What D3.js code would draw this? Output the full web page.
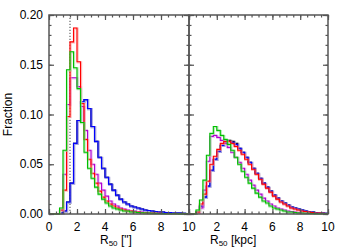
<!DOCTYPE html>
<html>
<head>
<meta charset="utf-8">
<script src="https://cdn.jsdelivr.net/npm/d3@7"></script>
<style>
  body { margin: 0; background: #fff; }
  text { font-family: "Liberation Sans", Arial, sans-serif; }
</style>
</head>
<body>
<svg id="chart" width="350" height="250"></svg>
<script>
// bins of 0.25 from 0 to 10 in both panels
var binWidth = 0.25;
var cutValue = 1.5; // dotted line, arcsec

// left panel: R50 in arcsec
var leftRed = [0, 0, 0, 0.004, 0.024, 0.098, 0.173, 0.187, 0.153, 0.111, 0.075, 0.055, 0.041, 0.031, 0.023, 0.017, 0.013, 0.010, 0.008, 0.006,
  0.005, 0.004, 0.003, 0.003, 0.002, 0.002, 0.0015, 0.0012, 0.001, 0.001, 0.0008, 0.0006, 0.0005, 0.0004, 0.0003, 0.0003, 0.0002, 0.0002, 0.0001, 0.0001];
var leftGreen = [0, 0, 0, 0.006, 0.064, 0.145, 0.163, 0.147, 0.126, 0.092, 0.062, 0.046, 0.036, 0.027, 0.020, 0.015, 0.011, 0.008, 0.006, 0.005,
  0.004, 0.003, 0.003, 0.002, 0.002, 0.0015, 0.0012, 0.001, 0.001, 0.0008, 0.0006, 0.0005, 0.0004, 0.0003, 0.0003, 0.0002, 0.0002, 0.0001, 0.0001, 0.0001];
var leftBlue = [0, 0, 0, 0.001, 0.003, 0.012, 0.031, 0.071, 0.094, 0.113, 0.115, 0.106, 0.088, 0.073, 0.057, 0.046, 0.037, 0.030, 0.024, 0.019,
  0.015, 0.012, 0.010, 0.008, 0.007, 0.006, 0.005, 0.004, 0.0035, 0.003, 0.0025, 0.002, 0.002, 0.0015, 0.0015, 0.001, 0.001, 0.001, 0.0008, 0.0005];
var leftMagenta = [0, 0, 0, 0.004, 0.040, 0.110, 0.137, 0.137, 0.128, 0.108, 0.084, 0.064, 0.050, 0.040, 0.031, 0.024, 0.018, 0.013, 0.010, 0.008,
  0.006, 0.005, 0.004, 0.003, 0.003, 0.002, 0.002, 0.0015, 0.001, 0.001, 0.0008, 0.0006, 0.0005, 0.0004, 0.0003, 0.0003, 0.0002, 0.0002, 0.0001, 0.0001];
var leftBlack = leftBlue;

// right panel: R50 in kpc
var rightRed = [0, 0, 0.002, 0.010, 0.020, 0.033, 0.050, 0.058, 0.065, 0.071, 0.073, 0.073, 0.071, 0.068, 0.064, 0.060, 0.055, 0.050, 0.045, 0.040,
  0.035, 0.030, 0.026, 0.022, 0.018, 0.015, 0.012, 0.010, 0.008, 0.006, 0.005, 0.004, 0.003, 0.0025, 0.002, 0.0015, 0.001, 0.001, 0.0008, 0.0005];
var rightGreen = [0, 0, 0.004, 0.014, 0.034, 0.059, 0.081, 0.088, 0.084, 0.079, 0.075, 0.070, 0.064, 0.057, 0.050, 0.043, 0.037, 0.031, 0.026, 0.021,
  0.017, 0.013, 0.011, 0.008, 0.006, 0.005, 0.004, 0.003, 0.002, 0.002, 0.0015, 0.001, 0.001, 0.0008, 0.0006, 0.0005, 0.0004, 0.0003, 0.0002, 0.0002];
var rightBlue = [0, 0, 0.002, 0.008, 0.017, 0.028, 0.044, 0.055, 0.063, 0.069, 0.072, 0.073, 0.072, 0.070, 0.066, 0.062, 0.057, 0.052, 0.046, 0.041,
  0.036, 0.031, 0.027, 0.023, 0.019, 0.016, 0.013, 0.011, 0.009, 0.007, 0.006, 0.005, 0.004, 0.003, 0.0025, 0.002, 0.0015, 0.001, 0.001, 0.0008];
var rightMagenta = [0, 0, 0.002, 0.006, 0.024, 0.053, 0.078, 0.079, 0.077, 0.074, 0.071, 0.067, 0.062, 0.057, 0.052, 0.046, 0.040, 0.034, 0.029, 0.024,
  0.020, 0.016, 0.013, 0.010, 0.008, 0.006, 0.005, 0.004, 0.003, 0.0025, 0.002, 0.0015, 0.001, 0.001, 0.0008, 0.0006, 0.0005, 0.0004, 0.0003, 0.0002];
var rightBlack = [0, 0, 0.002, 0.008, 0.017, 0.028, 0.044, 0.055, 0.063, 0.069, 0.073, 0.074, 0.073, 0.071, 0.066, 0.062, 0.057, 0.052, 0.046, 0.041,
  0.036, 0.031, 0.027, 0.023, 0.019, 0.016, 0.013, 0.011, 0.009, 0.007, 0.006, 0.005, 0.004, 0.003, 0.0025, 0.002, 0.0015, 0.001, 0.001, 0.0008];

var xTicks = [0, 2, 4, 6, 8, 10];
var yTicks = [0, 0.05, 0.10, 0.15, 0.20];

var colors = {
  black: ["#000000", "#888888"],
  blue: ["#0000ff", "#9090ff"],
  magenta: ["#b000d0", "#e0a0ee"],
  red: ["#ff0000", "#ff9090"],
  green: ["#00c000", "#90e090"]
};

var panels = [
  { x0: 49, x1: 189, title: "R", unit: " [\"]", tx: 100, labels: [0, 2, 4, 6, 8, 10],
    series: [["black", leftBlack], ["blue", leftBlue], ["magenta", leftMagenta], ["red", leftRed], ["green", leftGreen]] },
  { x0: 189, x1: 328, title: "R", unit: " [kpc]", tx: 210, labels: [2, 4, 6, 8, 10],
    series: [["black", rightBlack], ["blue", rightBlue], ["magenta", rightMagenta], ["red", rightRed], ["green", rightGreen]] }
];

var plotTop = 15, plotBottom = 214;
var svg = d3.select("#chart");
var y = d3.scaleLinear().domain([0, 0.2]).range([plotBottom, plotTop]);

function steps(values, x) {
  var pts = [];
  values.forEach(function(v, i) {
    pts.push([x(i * binWidth), y(v)]);
    pts.push([x((i + 1) * binWidth), y(v)]);
  });
  return pts;
}

var line = d3.line();
var axisColor = "#555";

panels.forEach(function(p, pi) {
  var x = d3.scaleLinear().domain([0, 10]).range([p.x0, p.x1]);
  var clipId = "clip" + pi;
  svg.append("clipPath").attr("id", clipId)
    .append("rect").attr("x", p.x0).attr("y", plotTop).attr("width", p.x1 - p.x0).attr("height", plotBottom - plotTop + 1);
  var g = svg.append("g").attr("clip-path", "url(#" + clipId + ")");

  if (pi == 0) {
    g.append("line")
      .attr("x1", x(cutValue)).attr("x2", x(cutValue))
      .attr("y1", y(0)).attr("y2", y(0.2))
      .attr("stroke", "#666").attr("stroke-width", 1.2)
      .attr("stroke-dasharray", "1.3,1.7");
  }

  p.series.forEach(function(s) {
    var c = colors[s[0]];
    g.append("path").attr("d", line(steps(s[1], x)))
      .attr("fill", "none").attr("stroke", c[1]).attr("stroke-width", 2.2)
      .attr("stroke-opacity", 0.6)
      .attr("transform", "translate(0.6,0.6)");
    g.append("path").attr("d", line(steps(s[1], x)))
      .attr("fill", "none").attr("stroke", c[0]).attr("stroke-width", 1.1);
  });

  // ticks drawn with d3 axes, inward
  var ax = svg.append("g");
  ax.append("g").attr("transform", "translate(0," + plotBottom + ")")
    .call(d3.axisTop(x).tickValues(d3.range(0, 10.01, 0.5)).tickSize(2.5).tickFormat(""));
  ax.append("g").attr("transform", "translate(0," + plotBottom + ")")
    .call(d3.axisTop(x).tickValues(xTicks).tickSize(5).tickFormat(""));
  ax.append("g").attr("transform", "translate(0," + plotTop + ")")
    .call(d3.axisBottom(x).tickValues(d3.range(0, 10.01, 0.5)).tickSize(2.5).tickFormat(""));
  ax.append("g").attr("transform", "translate(0," + plotTop + ")")
    .call(d3.axisBottom(x).tickValues(xTicks).tickSize(5).tickFormat(""));
  ax.append("g").attr("transform", "translate(" + p.x0 + ",0)")
    .call(d3.axisRight(y).tickValues(d3.range(0, 0.2001, 0.01)).tickSize(2.5).tickFormat(""));
  ax.append("g").attr("transform", "translate(" + p.x0 + ",0)")
    .call(d3.axisRight(y).tickValues(yTicks).tickSize(5).tickFormat(""));
  ax.append("g").attr("transform", "translate(" + p.x1 + ",0)")
    .call(d3.axisLeft(y).tickValues(d3.range(0, 0.2001, 0.01)).tickSize(2.5).tickFormat(""));
  ax.append("g").attr("transform", "translate(" + p.x1 + ",0)")
    .call(d3.axisLeft(y).tickValues(yTicks).tickSize(5).tickFormat(""));
  ax.selectAll(".domain").remove();
  ax.selectAll("line").attr("stroke", axisColor).attr("stroke-width", 1.2);

  svg.append("rect")
    .attr("x", p.x0).attr("y", plotTop).attr("width", p.x1 - p.x0).attr("height", plotBottom - plotTop)
    .attr("fill", "none").attr("stroke", axisColor).attr("stroke-width", 1.5);

  svg.selectAll(".xl" + pi).data(p.labels).enter().append("text")
    .attr("x", function(d) { return x(d); })
    .attr("y", 231)
    .attr("text-anchor", "middle")
    .attr("font-size", 12)
    .text(function(d) { return d; });

  var t = svg.append("text").attr("x", p.tx).attr("y", 244).attr("font-size", 12);
  t.append("tspan").text(p.title);
  t.append("tspan").attr("font-size", 8).attr("dy", 2).text("50");
  t.append("tspan").attr("dy", -2).text(p.unit);
});

svg.selectAll(".yl").data(yTicks).enter().append("text")
  .attr("x", 43)
  .attr("y", function(d) { return y(d) + 4; })
  .attr("text-anchor", "end")
  .attr("font-size", 12)
  .text(function(d) { return d.toFixed(2); });

svg.append("text")
  .attr("transform", "translate(12," + ((plotTop + plotBottom) / 2) + ") rotate(-90)")
  .attr("text-anchor", "middle")
  .attr("font-size", 12)
  .text("Fraction");
</script>
</body>
</html>
